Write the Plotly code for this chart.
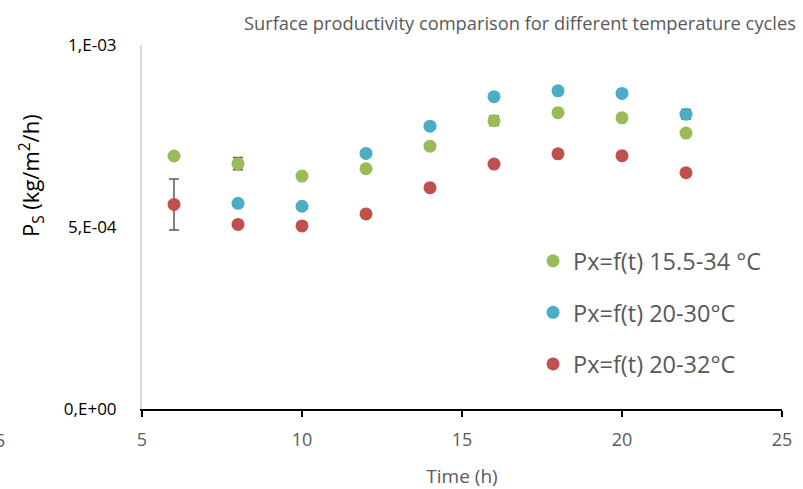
import plotly.graph_objects as go

time_h = [6, 8, 10, 12, 14, 16, 18, 20, 22]
time_blue = [8, 10, 12, 14, 16, 18, 20, 22]

green_vals = [6.95e-4, 6.74e-4, 6.40e-4, 6.60e-4, 7.22e-4, 7.92e-4, 8.14e-4, 8.00e-4, 7.58e-4]
green_err = [0, 1.7e-5, 0, 0, 0, 1.3e-5, 0, 0, 0]
blue_vals = [5.65e-4, 5.57e-4, 7.02e-4, 7.77e-4, 8.58e-4, 8.74e-4, 8.67e-4, 8.10e-4]
blue_err = [0, 0, 0, 0, 0, 0, 0, 1.3e-5]
red_vals = [5.62e-4, 5.07e-4, 5.03e-4, 5.36e-4, 6.08e-4, 6.73e-4, 7.01e-4, 6.96e-4, 6.49e-4]
red_err = [7.0e-5, 0, 0, 0, 0, 0, 0, 0, 0]

names = ["Px=f(t) 15.5-34 °C", "Px=f(t) 20-30°C", "Px=f(t) 20-32°C"]
colors = ["#9BBB59", "#4BACC6", "#C0504D"]

y_tickvals = [0, 5e-4, 1e-3]
y_ticktext = ["0,E+00", "5,E-04", "1,E-03"]
x_tickvals = [5, 10, 15, 20, 25]

fig = go.Figure()
series = [(time_h, green_vals, green_err), (time_blue, blue_vals, blue_err), (time_h, red_vals, red_err)]
for i, (xs, ys, es) in enumerate(series):
    fig.add_trace(go.Scatter(
        x=xs, y=ys, mode="markers", name=names[i], legendgroup=f"g{i}",
        marker=dict(size=13, color=colors[i]),
        error_y=dict(type="data", array=es, visible=True, color="#595959", thickness=1.5, width=5),
    ))

fig.update_layout(
    width=803, height=489,
    margin=dict(l=142, r=21, t=45, b=80, autoexpand=False),
    paper_bgcolor="white", plot_bgcolor="white",
    font=dict(family="Open Sans, Noto Sans, sans-serif", color="#595959"),
    showlegend=True,
    legend=dict(x=0.611, y=0.467, xanchor="left", yanchor="top",
                font=dict(size=23.5, color="#595959"), tracegroupgap=18,
                bgcolor="rgba(0,0,0,0)", itemwidth=30),
    xaxis=dict(range=[5, 25], tickvals=x_tickvals, showgrid=False, zeroline=False,
               showline=True, linecolor="#000000", linewidth=1.5, automargin=False,
               ticks="outside", ticklen=6, tickcolor="#000000", tickwidth=1.5,
               tickfont=dict(size=18, color="#595959"), ticklabelstandoff=8,
               title=dict(text="Time (h)", font=dict(size=19, color="#595959"), standoff=20)),
    yaxis=dict(range=[0, 1e-3], tickvals=y_tickvals, ticktext=y_ticktext, showgrid=False,
               zeroline=False, showline=True, linecolor="#D9D9D9", linewidth=2, automargin=False,
               ticks="", tickfont=dict(size=17, color="#000000"), ticklabelstandoff=20),
    annotations=[
        dict(text="Surface productivity comparison for different temperature cycles",
             xref="paper", yref="paper", x=0.59, y=1.0, yshift=23, xanchor="center", yanchor="middle",
             showarrow=False, font=dict(size=18.3, color="#595959")),
        dict(text="P<sub>S</sub> (kg/m<sup>2</sup>/h)", textangle=-90,
             xref="paper", yref="paper", x=0, xshift=-111, y=0.64, xanchor="center", yanchor="middle",
             showarrow=False, font=dict(size=22, color="#000000")),
        dict(text="5", xref="paper", yref="paper", x=0, xshift=-142, y=0, yshift=-31,
             xanchor="center", yanchor="middle", showarrow=False,
             font=dict(size=18, color="#595959")),
    ],
)

fig.write_html("out.html")
